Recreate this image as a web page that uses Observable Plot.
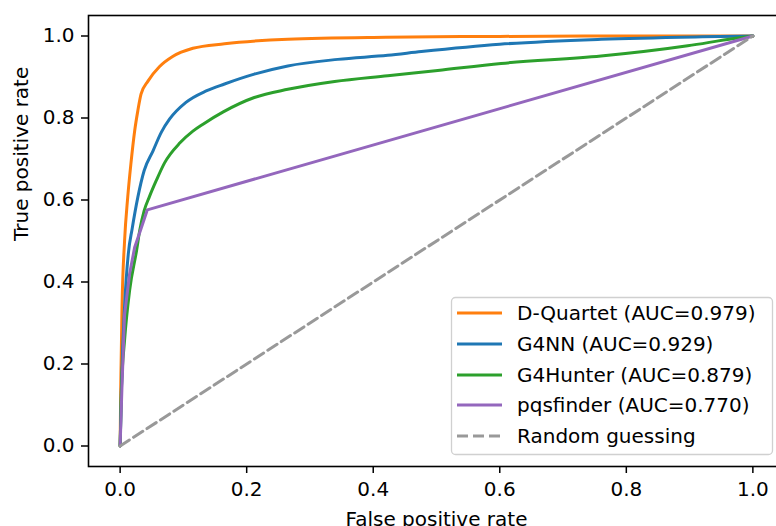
<!DOCTYPE html>
<html>
<head>
<meta charset="utf-8">
<script src="https://cdn.jsdelivr.net/npm/d3@7"></script>
<script src="https://cdn.jsdelivr.net/npm/@observablehq/plot@0.6"></script>
<style>
  html, body { margin: 0; padding: 0; background: white; }
</style>
</head>
<body>
<div id="chart"></div>
<script>
// ROC curves (FPR, TPR)
const dquartetFpr = [0, 0.001, 0.003, 0.007, 0.012, 0.017, 0.023, 0.028, 0.033, 0.044, 0.062, 0.083, 0.115, 0.165, 0.265, 0.42, 0.6, 0.8, 1];
const dquartetTpr = [0, 0.15, 0.34, 0.50, 0.607, 0.688, 0.769, 0.818, 0.858, 0.890, 0.925, 0.950, 0.970, 0.981, 0.992, 0.997, 0.999, 1.0, 1];

const g4nnFpr = [0, 0.002, 0.007, 0.013, 0.019, 0.028, 0.038, 0.052, 0.065, 0.078, 0.104, 0.136, 0.165, 0.212, 0.265, 0.344, 0.423, 0.476, 0.6, 0.76, 0.92, 1];
const g4nnTpr = [0, 0.14, 0.34, 0.47, 0.53, 0.607, 0.672, 0.720, 0.765, 0.797, 0.838, 0.866, 0.883, 0.907, 0.927, 0.943, 0.953, 0.962, 0.980, 0.992, 0.998, 1];

const g4hunterFpr = [0, 0.002, 0.007, 0.015, 0.026, 0.031, 0.038, 0.046, 0.057, 0.070, 0.095, 0.115, 0.131, 0.163, 0.212, 0.265, 0.339, 0.423, 0.502, 0.602, 0.76, 0.897, 0.97, 1];
const g4hunterTpr = [0, 0.136, 0.258, 0.38, 0.477, 0.526, 0.574, 0.607, 0.647, 0.690, 0.740, 0.768, 0.785, 0.815, 0.850, 0.870, 0.889, 0.903, 0.916, 0.933, 0.951, 0.976, 0.994, 1];

const pqsfinderFpr = [0, 0.003, 0.007, 0.015, 0.023, 0.033, 0.043, 1];
const pqsfinderTpr = [0, 0.15, 0.32, 0.42, 0.485, 0.53, 0.576, 1];

const randomFpr = [0, 1];
const randomTpr = [0, 1];

const seriesNames = ["D-Quartet (AUC=0.979)", "G4NN (AUC=0.929)", "G4Hunter (AUC=0.879)", "pqsfinder (AUC=0.770)", "Random guessing"];
const seriesColors = ["#ff7f0e", "#1f77b4", "#2ca02c", "#9467bd", "#999999"];

const xTicks = [0, 0.2, 0.4, 0.6, 0.8, 1.0];
const yTicks = [0, 0.2, 0.4, 0.6, 0.8, 1.0];

const xLabel = "False positive rate";
const yLabel = "True positive rate";

function toRows(fpr, tpr) { return fpr.map((f, i) => ({fpr: f, tpr: tpr[i]})); }

const curves = [
  toRows(dquartetFpr, dquartetTpr),
  toRows(g4nnFpr, g4nnTpr),
  toRows(g4hunterFpr, g4hunterTpr),
  toRows(pqsfinderFpr, pqsfinderTpr)
];
const randomRows = toRows(randomFpr, randomTpr);

const fmt = d => d.toFixed(1);

const chart = Plot.plot({
  width: 776,
  height: 526,
  marginLeft: 88,
  marginRight: -8,
  marginTop: 15,
  marginBottom: 60,
  style: {fontFamily: "DejaVu Sans", fontSize: "20px", color: "black", background: "white"},
  x: {domain: [-0.05, 1.05]},
  y: {domain: [-0.05, 1.05]},
  marks: [
    ...curves.map((rows, i) => Plot.line(rows, {x: "fpr", y: "tpr", stroke: seriesColors[i], strokeWidth: 3, strokeLinejoin: "round", curve: i < 3 ? "monotone-x" : "linear"})),
    Plot.line(randomRows, {x: "fpr", y: "tpr", stroke: seriesColors[4], strokeWidth: 3, strokeDasharray: "11,5"}),
    Plot.frame({stroke: "black", strokeWidth: 1.6}),
    Plot.axisX({ticks: xTicks, tickFormat: fmt, tickSize: 7, tickPadding: 8, strokeWidth: 1.5, label: null, fill: "black"}),
    Plot.axisY({ticks: yTicks, tickFormat: fmt, tickSize: 7, tickPadding: 7, strokeWidth: 1.5, label: null, fill: "black"}),
    Plot.text([xLabel], {frameAnchor: "bottom", dy: 59, lineAnchor: "bottom", text: d => d, fill: "black", fontSize: 20}),
    Plot.text([yLabel], {frameAnchor: "left", dx: -67, rotate: -90, lineAnchor: "middle", text: d => d, fill: "black", fontSize: 20})
  ]
});

document.getElementById("chart").appendChild(chart);

// Legend (matplotlib-style box)
const svg = d3.select(chart);
const lg = svg.append("g").attr("font-family", "DejaVu Sans").attr("font-size", 20).attr("text-anchor", "start");
lg.append("rect")
  .attr("x", 451.5).attr("y", 297.5).attr("width", 321).attr("height", 157)
  .attr("rx", 4).attr("fill", "white").attr("fill-opacity", 0.85)
  .attr("stroke", "#d0d0d0").attr("stroke-width", 1.3);
const rowY = [313, 344, 375, 405, 436];
seriesNames.forEach((name, i) => {
  lg.append("line")
    .attr("x1", 457).attr("x2", 502).attr("y1", rowY[i]).attr("y2", rowY[i])
    .attr("stroke", seriesColors[i]).attr("stroke-width", 3)
    .attr("stroke-dasharray", i === 4 ? "11,5" : null);
  lg.append("text")
    .attr("x", 517).attr("y", rowY[i]).attr("dy", "0.35em")
    .attr("text-anchor", "start")
    .attr("fill", "black").text(name);
});
</script>
</body>
</html>
